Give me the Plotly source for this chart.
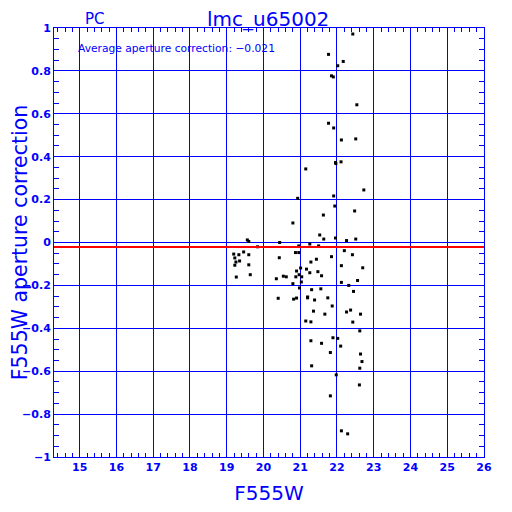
import plotly.graph_objects as go

# Data
mag = [19.56, 19.60, 19.84, 19.19, 19.33, 19.46, 19.60, 19.22, 19.35, 19.25, 19.22, 19.60, 19.26, 19.64,
       20.40, 20.35, 20.43, 20.44,
       22.43, 21.77, 22.17, 22.02, 21.85, 21.90, 22.54, 21.77, 21.91, 22.12, 22.51, 21.96, 21.97, 22.11,
       21.15, 22.73, 20.93, 21.91, 21.94, 22.48, 21.63, 20.80, 21.53, 21.64, 21.96, 22.26, 22.51, 21.26,
       21.50, 20.96,
       20.87, 20.96, 21.85, 22.20, 22.42, 21.44, 21.29, 22.12, 22.70, 21.01, 21.17, 20.90, 21.26, 21.48,
       20.54, 20.62, 20.88, 20.97, 21.04, 21.58, 20.80, 21.03, 22.12, 22.56, 22.32, 20.98, 21.31, 21.56,
       22.45, 20.82, 20.90, 21.20, 21.20, 21.39, 21.75, 21.87, 21.36, 21.67, 22.26, 22.37, 22.64, 21.15,
       21.29, 22.43, 22.62, 21.29, 21.58, 21.89, 22.02, 22.10, 21.82, 22.64, 22.68, 22.62, 21.31, 21.98,
       22.61, 21.82, 22.12, 22.29]
corr = [0.012, 0.005, -0.020, -0.054, -0.057, -0.044, -0.057, -0.072, -0.086, -0.091, -0.106, -0.104, -0.161, -0.150,
        -0.260, -0.169, -0.071, 0.000,
        0.972, 0.877, 0.844, 0.824, 0.777, 0.772, 0.642, 0.556, 0.534, 0.478, 0.483, 0.373, 0.368, 0.376,
        0.343, 0.245, 0.206, 0.217, 0.170, 0.147, 0.128, 0.091, 0.035, 0.016, 0.021, 0.009, 0.016, -0.007,
        -0.016, -0.016,
        -0.047, -0.047, -0.066, -0.038, -0.057, -0.078, -0.091, -0.108, -0.118, -0.119, -0.124, -0.133, -0.141, -0.136,
        -0.157, -0.160, -0.160, -0.150, -0.160, -0.155, -0.192, -0.184, -0.186, -0.177, -0.200, -0.212, -0.220, -0.216,
        -0.228, -0.264, -0.259, -0.254, -0.258, -0.268, -0.258, -0.296, -0.320, -0.334, -0.324, -0.315, -0.334, -0.366,
        -0.370, -0.371, -0.412, -0.458, -0.470, -0.444, -0.447, -0.483, -0.513, -0.520, -0.555, -0.586, -0.575, -0.617,
        -0.664, -0.715, -0.878, -0.892]
avg_corr = -0.021

x_ticks = list(range(15, 27))
y_ticks = [1, 0.8, 0.6, 0.4, 0.2, 0, -0.2, -0.4, -0.6, -0.8, -1]
y_labels = ["1", "0.8", "0.6", "0.4", "0.2", "0", "\u22120.2", "\u22120.4", "\u22120.6", "\u22120.8", "\u22121"]

BLUE = "#0000ff"
FONT = "DejaVu Sans"

fig = go.Figure()
fig.add_trace(go.Scatter(x=mag, y=corr, mode="markers",
                         marker=dict(symbol="square", size=3, color="black", line=dict(width=0)),
                         showlegend=False, hoverinfo="skip"))
fig.add_hline(y=avg_corr, line=dict(color="red", width=2))

fig.update_xaxes(range=[14.3, 26], tickvals=x_ticks, ticktext=[str(t) for t in x_ticks],
                 showgrid=True, gridcolor=BLUE, gridwidth=1, zeroline=False, automargin=False,
                 showline=True, linecolor=BLUE, linewidth=1, mirror="allticks",
                 ticks="inside", ticklen=6, tickcolor=BLUE,
                 minor=dict(dtick=0.2, tick0=0, ticks="inside", ticklen=4, tickcolor=BLUE, showgrid=False),
                 tickfont=dict(family=FONT, size=11, color=BLUE, weight="bold"),
                 title=dict(text="F555W", font=dict(family=FONT, size=20, color=BLUE), standoff=12))
fig.update_yaxes(range=[-1, 1], tickvals=y_ticks, ticktext=y_labels,
                 showgrid=True, gridcolor=BLUE, gridwidth=1, zeroline=False, automargin=False,
                 showline=True, linecolor=BLUE, linewidth=1, mirror="allticks",
                 ticks="inside", ticklen=6, tickcolor=BLUE,
                 minor=dict(dtick=0.05, tick0=0, ticks="inside", ticklen=5, tickcolor=BLUE, showgrid=False),
                 tickfont=dict(family=FONT, size=11, color=BLUE, weight="bold"),
                 title=dict(text="F555W aperture correction", font=dict(family=FONT, size=20.5, color=BLUE), standoff=4))

fig.add_annotation(text="lmc_u65002", xref="paper", yref="paper", x=0.497, y=1.0, yshift=9,
                   xanchor="center", yanchor="middle", showarrow=False,
                   font=dict(family=FONT, size=20, color=BLUE))
fig.add_annotation(text="PC", xref="paper", yref="paper", x=0.095, y=1.0, yshift=9,
                   xanchor="center", yanchor="middle", showarrow=False,
                   font=dict(family=FONT, size=15, color=BLUE))
fig.add_annotation(text="Average aperture correction: \u22120.021", xref="paper", yref="paper",
                   x=0.05, y=0.953, xanchor="left", yanchor="middle", showarrow=False,
                   font=dict(family=FONT, size=10.7, color=BLUE))

fig.update_layout(width=512, height=512, margin=dict(l=46, r=36, t=20, b=63),
                  paper_bgcolor="white", plot_bgcolor="white")

fig.write_html("out.html")
